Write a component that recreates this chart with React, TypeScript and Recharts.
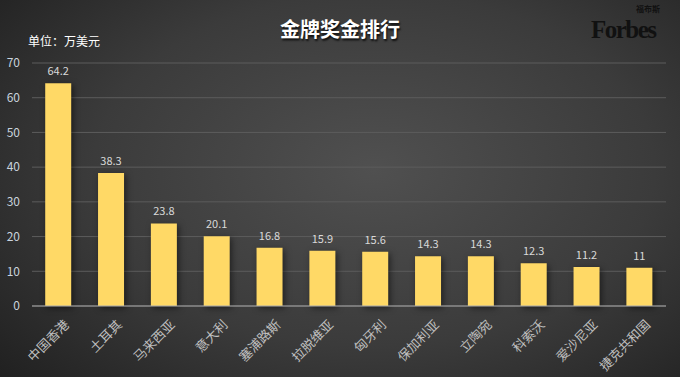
import { BarChart, Bar, XAxis, YAxis, CartesianGrid, LabelList } from "recharts";

const countries = [
  "中国香港",
  "土耳其",
  "马来西亚",
  "意大利",
  "塞浦路斯",
  "拉脱维亚",
  "匈牙利",
  "保加利亚",
  "立陶宛",
  "科索沃",
  "爱沙尼亚",
  "捷克共和国",
];
const bonus = [64.2, 38.3, 23.8, 20.1, 16.8, 15.9, 15.6, 14.3, 14.3, 12.3, 11.2, 11];
const yTicks = [0, 10, 20, 30, 40, 50, 60, 70];

const data = countries.map((name, i) => ({ name, value: bonus[i] }));

const FONT = '"Noto Sans CJK SC", "Noto Sans", sans-serif';

function CountryTick(props: any) {
  const { x, y, payload } = props;
  return (
    <g transform={`translate(${x + 6},${y + 6})`}>
      <text
        transform="rotate(-45)"
        textAnchor="end"
        dy={8}
        fill="#bfbfbf"
        fontSize={13}
        fontFamily={FONT}
      >
        {payload.value}
      </text>
    </g>
  );
}

export default function App() {
  return (
    <div
      style={{
        position: "absolute",
        left: 0,
        top: 0,
        width: 680,
        height: 377,
        overflow: "hidden",
        background:
          "radial-gradient(ellipse 75% 85% at 55% 45%, #505050 0%, #3b3b3b 55%, #1f1f1f 100%)",
        fontFamily: FONT,
      }}
    >
      <div
        style={{
          position: "absolute",
          left: 0,
          width: 680,
          top: 14,
          textAlign: "center",
          color: "#ffffff",
          fontSize: 20,
          fontWeight: 700,
          textShadow: "1px 2px 2px rgba(0,0,0,0.8)",
        }}
      >
        金牌奖金排行
      </div>
      <div
        style={{
          position: "absolute",
          left: 28,
          top: 32,
          color: "#ffffff",
          fontSize: 12,
        }}
      >
        单位：万美元
      </div>
      {/* Forbes logo */}
      <div
        style={{
          position: "absolute",
          left: 636,
          top: 5,
          fontSize: 8,
          lineHeight: "8px",
          color: "#111111",
          fontWeight: 700,
        }}
      >
        福布斯
      </div>
      <div
        style={{
          position: "absolute",
          left: 591,
          top: 20,
          fontSize: 25,
          lineHeight: "20px",
          color: "#111111",
          fontFamily: '"Liberation Serif", "DejaVu Serif", serif',
          fontWeight: 700,
          letterSpacing: -1.5,
        }}
      >
        Forbes
      </div>
      <BarChart
        width={680}
        height={377}
        data={data}
        margin={{ top: 63, right: 14, bottom: 0, left: 0 }}
        barCategoryGap="25%"
        style={{ position: "absolute", left: 0, top: 0 }}
      >
        <CartesianGrid vertical={false} stroke="#5c5c5c" strokeWidth={1} />
        <XAxis
          dataKey="name"
          height={71}
          interval={0}
          tick={<CountryTick />}
          tickLine={false}
          axisLine={{ stroke: "#a6a6a6", strokeWidth: 1 }}
        />
        <YAxis
          width={32}
          domain={[0, 70]}
          ticks={yTicks}
          tickLine={false}
          axisLine={false}
          tick={{ fill: "#c9d3de", fontSize: 12, fontFamily: FONT }}
          tickMargin={6}
        />
        <Bar
          dataKey="value"
          fill="#ffd966"
          isAnimationActive={false}
          style={{ filter: "drop-shadow(2px 2px 3px rgba(0,0,0,0.5))" }}
        >
          <LabelList
            dataKey="value"
            position="top"
            offset={8}
            fill="#d9d9d9"
            fontSize={11}
            fontFamily={FONT}
          />
        </Bar>
      </BarChart>
    </div>
  );
}
